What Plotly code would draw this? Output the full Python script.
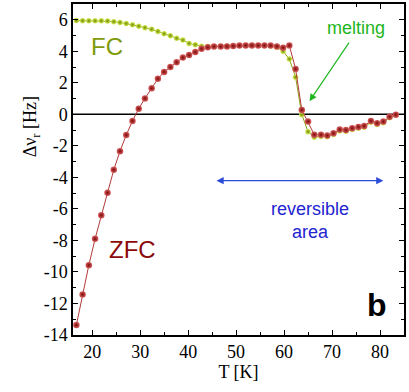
import plotly.graph_objects as go

# temperatures [K]
t_zfc = [16.7, 18.0, 19.3, 20.6, 21.9, 23.2, 24.5, 25.8, 27.1, 28.4, 29.7, 31.0, 32.4,
         33.7, 35.0, 36.3, 37.6, 38.9, 40.2, 41.5, 42.8, 44.1, 45.4, 46.8, 48.1, 49.4,
         50.7, 52.0, 53.3, 54.6, 55.9, 57.2, 58.5, 59.8, 61.1, 62.4, 63.7, 65.0, 66.3,
         67.7, 69.0, 70.3, 71.6, 72.9, 74.2, 75.5, 76.7, 78.1, 79.4, 80.7, 82.0, 83.3]
dv_zfc = [-13.37, -11.43, -9.57, -7.9, -6.4, -4.98, -3.52, -2.34, -1.31, -0.42, 0.36, 1.01, 1.65,
          2.26, 2.69, 3.0, 3.3, 3.6, 3.76, 3.95, 4.16, 4.25, 4.3, 4.3, 4.31, 4.33,
          4.36, 4.37, 4.37, 4.37, 4.37, 4.36, 4.31, 4.23, 4.37, 2.88, 0.28, -0.46, -1.29,
          -1.3, -1.35, -1.2, -0.97, -1.0, -0.88, -0.8, -0.74, -0.42, -0.56, -0.46, -0.16, -0.02]

t_fc = t_zfc
dv_fc = [5.95, 5.94, 5.93, 5.93, 5.93, 5.92, 5.88, 5.83, 5.76, 5.68, 5.59, 5.5, 5.4,
         5.26, 5.11, 4.99, 4.82, 4.71, 4.5, 4.42, 4.32, 4.3, 4.31, 4.32, 4.33, 4.34,
         4.36, 4.37, 4.37, 4.37, 4.36, 4.33, 4.26, 4.0, 3.51, 2.36, -0.02, -1.1, -1.45,
         -1.4, -1.42, -1.28, -1.05, -1.08, -0.96, -0.88, -0.82, -0.5, -0.64, -0.54, -0.22, -0.05]

x_ticks = [20, 30, 40, 50, 60, 70, 80]
y_ticks = list(range(-14, 7, 2))
y_labels = [str(v) for v in y_ticks]  # plain hyphen minus, like the original

serif = "Liberation Serif, Times New Roman, serif"
sans = "Liberation Sans, Arial, sans-serif"

fig = go.Figure()

# zero line
fig.add_shape(type="line", x0=16, x1=85, y0=0, y1=0, xref="x", yref="y",
              line=dict(color="black", width=1.5), layer="below")

fig.add_trace(go.Scatter(
    x=t_fc, y=dv_fc, mode="lines+markers", name="FC",
    line=dict(color="#8aa214", width=1),
    marker=dict(size=5.5, color="#d6ec5a",
                gradient=dict(type="radial", color="#6f8a00"),
                line=dict(width=0))))

fig.add_trace(go.Scatter(
    x=t_zfc, y=dv_zfc, mode="lines+markers", name="ZFC",
    line=dict(color="#b23a3a", width=1),
    marker=dict(size=6.5, color="#d86060",
                gradient=dict(type="radial", color="#7a0606"),
                line=dict(width=0))))

# text labels
fig.add_annotation(x=23.0, y=4.3, text="FC", showarrow=False,
                   font=dict(family=sans, size=24, color="#7f9a0a"))
fig.add_annotation(x=28.5, y=-8.6, text="ZFC", showarrow=False,
                   font=dict(family=sans, size=24, color="#8b0a0a"))
fig.add_annotation(x=75.0, y=5.5, text="melting", showarrow=False,
                   font=dict(family=sans, size=18, color="#22b522"))
fig.add_annotation(x=65.3, y=0.83, ax=73.75, ay=4.64, axref="x", ayref="y",
                   text="", showarrow=True, arrowhead=2, arrowsize=1.2,
                   arrowwidth=1.2, arrowcolor="#22b522")
fig.add_annotation(x=80.7, y=-4.21, ax=45.6, ay=-4.21, axref="x", ayref="y",
                   text="", showarrow=True, arrowhead=2, arrowside="end+start",
                   arrowsize=1.2, arrowwidth=1.2, arrowcolor="#2a4bd7")
fig.add_annotation(x=65.3, y=-6.75, text="reversible<br>area", showarrow=False,
                   font=dict(family=sans, size=18, color="#2323d0"))
fig.add_annotation(x=79.4, y=-12.1, text="<b>b</b>", showarrow=False,
                   font=dict(family=sans, size=32, color="black"))

# y title placed by hand
fig.add_annotation(x=-0.165, y=0.63, xref="paper", yref="paper",
                   text="Δν<sub>r</sub> [Hz]", textangle=-90, showarrow=False,
                   font=dict(family=serif, size=18, color="black"))

axis_common = dict(showgrid=False, zeroline=False, showline=True, linecolor="black",
                   linewidth=1.5, mirror="allticks", ticks="inside", ticklen=5,
                   tickwidth=1.2, tickcolor="black",
                   tickfont=dict(family=serif, size=18, color="black"))

fig.update_xaxes(range=[16, 85], tickvals=x_ticks,
                 minor=dict(dtick=5, tick0=15, ticks="inside", ticklen=3, tickcolor="black"),
                 title=dict(text="T [K]", font=dict(family=serif, size=18, color="black"),
                            standoff=2),
                 **axis_common)
fig.update_yaxes(range=[-14, 7], tickvals=y_ticks, ticktext=y_labels,
                 minor=dict(dtick=1, ticks="inside", ticklen=3, tickcolor="black"),
                 **axis_common)

fig.update_layout(width=409, height=392, showlegend=False,
                  plot_bgcolor="white", paper_bgcolor="white",
                  margin=dict(l=73, r=5, t=4, b=57, autoexpand=False))

# the page body has a default 8px margin; drop it so the chart sits at the corner
fig.write_html("out.html", config={"displayModeBar": False},
               post_script="document.body.style.margin='0';")
